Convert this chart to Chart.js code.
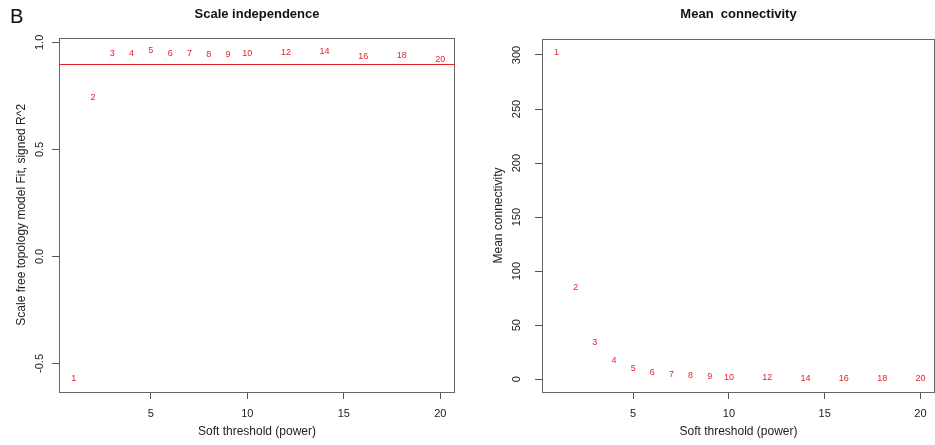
<!DOCTYPE html>
<html>
<head>
<meta charset="utf-8">
<script src="https://cdn.jsdelivr.net/npm/chart.js@4"></script>
<style>
  body { margin: 0; background: #fff; width: 935px; height: 445px; overflow: hidden; position: relative; font-family: 'Liberation Sans', Arial, sans-serif; }
  #panelTag { position: absolute; left: 10px; top: 6px; font-size: 20px; line-height: 20px; color: #111; }
  #leftChart { position: absolute; left: 0; top: 0; }
  #rightChart { position: absolute; left: 467px; top: 0; }
</style>
</head>
<body>
<div id="panelTag">B</div>
<canvas id="leftChart" width="467" height="445"></canvas>
<canvas id="rightChart" width="468" height="445"></canvas>
<script>
Chart.defaults.font.family = "'Liberation Sans', Arial, sans-serif";
Chart.defaults.color = '#222';

// soft-thresholding powers tried
const powers = [1, 2, 3, 4, 5, 6, 7, 8, 9, 10, 12, 14, 16, 18, 20];
// scale free topology fit (signed R^2)
const fitR2 = [-0.572, 0.743, 0.949, 0.946, 0.961, 0.950, 0.946, 0.943, 0.943, 0.950, 0.953, 0.957, 0.935, 0.938, 0.918];
// mean connectivity
const meanK = [302.7, 84.5, 34, 17, 9.9, 6.5, 4.3, 3.1, 2.5, 1.9, 1.2, 0.7, 0.5, 0.4, 0.3];
const cutHeight = 0.9;

const powerTicks = [5, 10, 15, 20];
const fitTicks = [-0.5, 0, 0.5, 1];
const kTicks = [0, 50, 100, 150, 200, 250, 300];

// R style axis range: data range plus 4% each side
const rRange = v => {
    const lo = Math.min(...v), hi = Math.max(...v), d = (hi - lo) * 0.04;
    return [lo - d, hi + d];
};

const textMarks = {
    id: 'textMarks',
    afterDatasetsDraw(chart) {
        const ctx = chart.ctx;
        ctx.save();
        ctx.font = "9px 'Liberation Sans', Arial, sans-serif";
        ctx.fillStyle = '#e8202a';
        ctx.textAlign = 'center';
        ctx.textBaseline = 'middle';
        chart.getDatasetMeta(0).data.forEach((pt, i) => {
            ctx.fillText(String(powers[i]), pt.x, pt.y);
        });
        ctx.restore();
    }
};

const frame = {
    id: 'frame',
    beforeDatasetsDraw(chart) {
        const {left, top, right, bottom} = chart.chartArea;
        const ctx = chart.ctx;
        ctx.save();
        ctx.strokeStyle = '#666';
        ctx.lineWidth = 1;
        ctx.strokeRect(Math.round(left) + 0.5, Math.round(top) + 0.5, Math.round(right - left) - 1, Math.round(bottom - top));
        ctx.restore();
    }
};

const cutLine = {
    id: 'cutLine',
    afterDatasetsDraw(chart, args, opts) {
        if (opts.value == null) return;
        const y = Math.round(chart.scales.y.getPixelForValue(opts.value)) + 0.5;
        const ctx = chart.ctx;
        ctx.save();
        ctx.strokeStyle = '#e8202a';
        ctx.lineWidth = 1;
        ctx.beginPath();
        ctx.moveTo(chart.chartArea.left, y);
        ctx.lineTo(chart.chartArea.right, y);
        ctx.stroke();
        ctx.restore();
    }
};

function makeChart(id, p) {
    const xr = rRange(powers);
    const yr = rRange(p.values);
    return new Chart(document.getElementById(id), {
        type: 'scatter',
        data: {
            datasets: [{
                data: powers.map((x, i) => ({x: x, y: p.values[i]})),
                pointRadius: 0,
                pointHoverRadius: 0
            }]
        },
        options: {
            responsive: false,
            animation: false,
            layout: { padding: { left: 0, right: p.padRight, top: 0, bottom: 0 } },
            scales: {
                x: {
                    type: 'linear', min: xr[0], max: xr[1], bounds: 'data',
                    afterBuildTicks: s => { s.ticks = powerTicks.map(v => ({value: v})); },
                    afterFit: s => { s.height = 53; },
                    grid: { drawOnChartArea: false, tickLength: 7, color: '#555' },
                    border: { display: false },
                    ticks: { font: { size: 11 }, padding: 8, maxRotation: 0, autoSkip: false },
                    title: { display: true, text: 'Soft threshold (power)', font: { size: 12 }, padding: { top: 0, bottom: 6 } }
                },
                y: {
                    type: 'linear', min: yr[0], max: yr[1], bounds: 'data',
                    afterBuildTicks: s => { s.ticks = p.ticks.map(v => ({value: v})); },
                    afterFit: s => { s.width = p.axisWidth; },
                    grid: { drawOnChartArea: false, tickLength: 7, color: '#555' },
                    border: { display: false },
                    ticks: {
                        font: { size: 11 }, padding: p.tickPad, minRotation: 90, maxRotation: 90,
                        crossAlign: 'center', autoSkip: false, callback: p.fmt
                    },
                    title: { display: true, text: p.yTitle, font: { size: 12 }, padding: { top: p.titlePad, bottom: 0 } }
                }
            },
            plugins: {
                legend: { display: false },
                tooltip: { enabled: false },
                title: {
                    display: true, text: p.title, fullSize: false, color: '#111',
                    font: { size: 13, weight: 'bold' }, padding: { top: 7, bottom: p.titleGap }
                },
                cutLine: { value: p.cut }
            }
        },
        plugins: [frame, textMarks, cutLine]
    });
}

makeChart('leftChart', {
    values: fitR2, ticks: fitTicks, fmt: v => v.toFixed(1),
    title: 'Scale independence', yTitle: 'Scale free topology model Fit, signed R^2',
    axisWidth: 59, tickPad: 2.5, titlePad: 14.5, padRight: 12, titleGap: 15, cut: cutHeight
});

makeChart('rightChart', {
    values: meanK, ticks: kTicks, fmt: v => String(v),
    title: 'Mean  connectivity', yTitle: 'Mean connectivity',
    axisWidth: 75, tickPad: 8.5, titlePad: 24.8, padRight: 0, titleGap: 16.4, cut: null
});
</script>
</body>
</html>
